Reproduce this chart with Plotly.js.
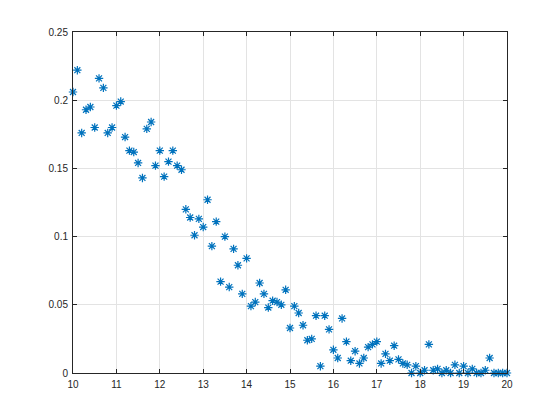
<!DOCTYPE html>
<html>
<head>
<meta charset="utf-8">
<script src="https://cdn.plot.ly/plotly-3.0.1.min.js"></script>
<style>html,body{margin:0;padding:0;background:#fff;}#chart{width:560px;height:420px;}</style>
</head>
<body>
<div id="chart"></div>
<script>
var xValues = [10.0,10.1,10.2,10.3,10.4,10.5,10.6,10.7,10.8,10.9,
  11.0,11.1,11.2,11.3,11.4,11.5,11.6,11.7,11.8,11.9,
  12.0,12.1,12.2,12.3,12.4,12.5,12.6,12.7,12.8,12.9,
  13.0,13.1,13.2,13.3,13.4,13.5,13.6,13.7,13.8,13.9,
  14.0,14.1,14.2,14.3,14.4,14.5,14.6,14.7,14.8,14.9,
  15.0,15.1,15.2,15.3,15.4,15.5,15.6,15.7,15.8,15.9,
  16.0,16.1,16.2,16.3,16.4,16.5,16.6,16.7,16.8,16.9,
  17.0,17.1,17.2,17.3,17.4,17.5,17.6,17.7,17.8,17.9,
  18.0,18.1,18.2,18.3,18.4,18.5,18.6,18.7,18.8,18.9,
  19.0,19.1,19.2,19.3,19.4,19.5,19.6,19.7,19.8,19.9,20.0];
var yValues = [0.206,0.222,0.176,0.193,0.195,0.180,0.216,0.209,0.176,0.180,
  0.196,0.199,0.173,0.163,0.162,0.154,0.143,0.179,0.184,0.152,
  0.163,0.144,0.155,0.163,0.152,0.149,0.120,0.114,0.101,0.113,
  0.107,0.127,0.093,0.111,0.067,0.100,0.063,0.091,0.079,0.058,
  0.084,0.049,0.052,0.066,0.058,0.048,0.053,0.052,0.050,0.061,
  0.033,0.049,0.044,0.035,0.024,0.025,0.042,0.005,0.042,0.032,
  0.017,0.011,0.040,0.023,0.009,0.016,0.007,0.011,0.019,0.021,
  0.023,0.007,0.014,0.009,0.020,0.010,0.007,0.006,0.000,0.005,
  0.000,0.002,0.021,0.002,0.003,0.000,0.002,0.000,0.006,0.000,
  0.005,0.000,0.003,0.000,0.000,0.002,0.011,0.000,0.000,0.000,0.000];
var xTicks = [10,11,12,13,14,15,16,17,18,19,20];
var yTicks = [0,0.05,0.1,0.15,0.2,0.25];
var yTickText = ['0','0.05','0.1','0.15','0.2','0.25'];

var trace = {
  x: xValues, y: yValues, type: 'scatter', mode: 'markers', cliponaxis: false,
  marker: {symbol: 'asterisk-open', size: 7, color: '#0072BD', line: {color: '#0072BD', width: 1.2}},
  hoverinfo: 'none'
};
var axisCommon = {
  showline: true, linecolor: '#262626', linewidth: 1, mirror: 'ticks',
  ticks: 'inside', ticklen: 4, tickcolor: '#262626', tickwidth: 1,
  showgrid: true, gridcolor: '#e3e3e3', gridwidth: 1, zeroline: false,
  tickfont: {family: 'Liberation Sans, Arial, sans-serif', size: 10, color: '#262626'},
  fixedrange: true
};
var layout = {
  width: 560, height: 420,
  margin: {l: 73, r: 53, t: 32, b: 47, pad: 0},
  paper_bgcolor: '#ffffff', plot_bgcolor: '#ffffff',
  showlegend: false,
  xaxis: Object.assign({}, axisCommon, {range: [10, 20], tickvals: xTicks, ticktext: xTicks.map(String), ticklabelstandoff: 2}),
  yaxis: Object.assign({}, axisCommon, {range: [0, 0.25], tickvals: yTicks, ticktext: yTickText, ticklabelstandoff: 2})
};
Plotly.newPlot('chart', [trace], layout, {staticPlot: true, displayModeBar: false});
</script>
</body>
</html>
